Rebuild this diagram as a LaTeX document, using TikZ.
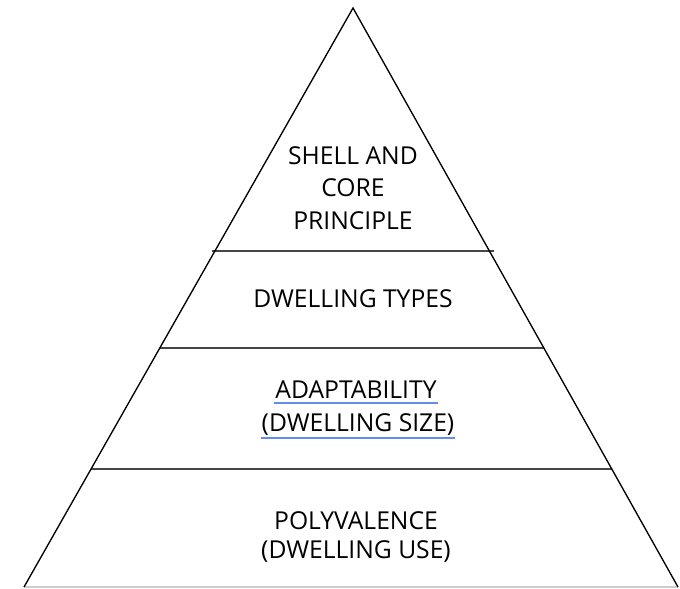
\documentclass[tikz,border=0pt]{standalone}
\usepackage{fontspec}
\setmainfont{Open Sans}
\usetikzlibrary{calc,positioning}
\definecolor{divgray}{RGB}{70,70,70}
\definecolor{spellblue}{RGB}{100,140,240}
\definecolor{basegray}{RGB}{205,205,205}

\begin{document}
\begin{tikzpicture}[x=0.75pt,y=-0.75pt]
\tikzstyle{every node}+=[inner sep=0pt]
\tikzstyle{edge}=[black,line width=1pt]
\tikzstyle{divider}=[divgray,line width=1.5pt]
\tikzstyle{level}=[font=\fontsize{18.5}{24.4}\selectfont,align=center,text=black]
\tikzstyle{squiggle}=[spellblue,line width=1pt]
\useasboundingbox (0,0) rectangle (680,588);
\coordinate (apex) at (353,8);
\coordinate (bl) at (24,587);
\coordinate (br) at (678,587);
% dividers
\coordinate (d1l) at ($(apex)!0.4197!(bl)$);
\coordinate (d1r) at ($(apex)!0.4197!(br)$);
\coordinate (d2l) at ($(apex)!0.5872!(bl)$);
\coordinate (d2r) at ($(apex)!0.5872!(br)$);
\coordinate (d3l) at ($(apex)!0.7962!(bl)$);
\coordinate (d3r) at ($(apex)!0.7962!(br)$);
\draw [basegray,line width=0.8pt] (bl) -- (br);
\draw [divider] ($(d1l)+(-3,0)$) -- ($(d1r)+(5,0)$);
\draw [divider] (d2l) -- (d2r);
\draw [divider] (d3l) -- (d3r);
\draw [edge] (bl) -- (apex) -- (br);
% labels
\node [level] (shell) at (353,188) {SHELL AND\\CORE\\PRINCIPLE};
\node [level] (types) at (353,299) {DWELLING TYPES};
\node [level] (adapt) at (356,390) {ADAPTABILITY};
\node [level] (size) at (358,425) {(DWELLING SIZE)};
\node [level] (poly) at (356,521) {POLYVALENCE};
\node [level] (use) at (356,552) {(DWELLING USE)};
\draw [squiggle] (adapt.base west) ++(-1,4) coordinate (a1) (adapt.base east) ++(1,4) coordinate (a2);
\draw [squiggle] (a1) -- (a2);
\draw [squiggle] (size.base west) ++(0,6) coordinate (s1) (size.base east) ++(0,6) coordinate (s2);
\draw [squiggle] (s1) -- (s2);
\end{tikzpicture}
\end{document}
